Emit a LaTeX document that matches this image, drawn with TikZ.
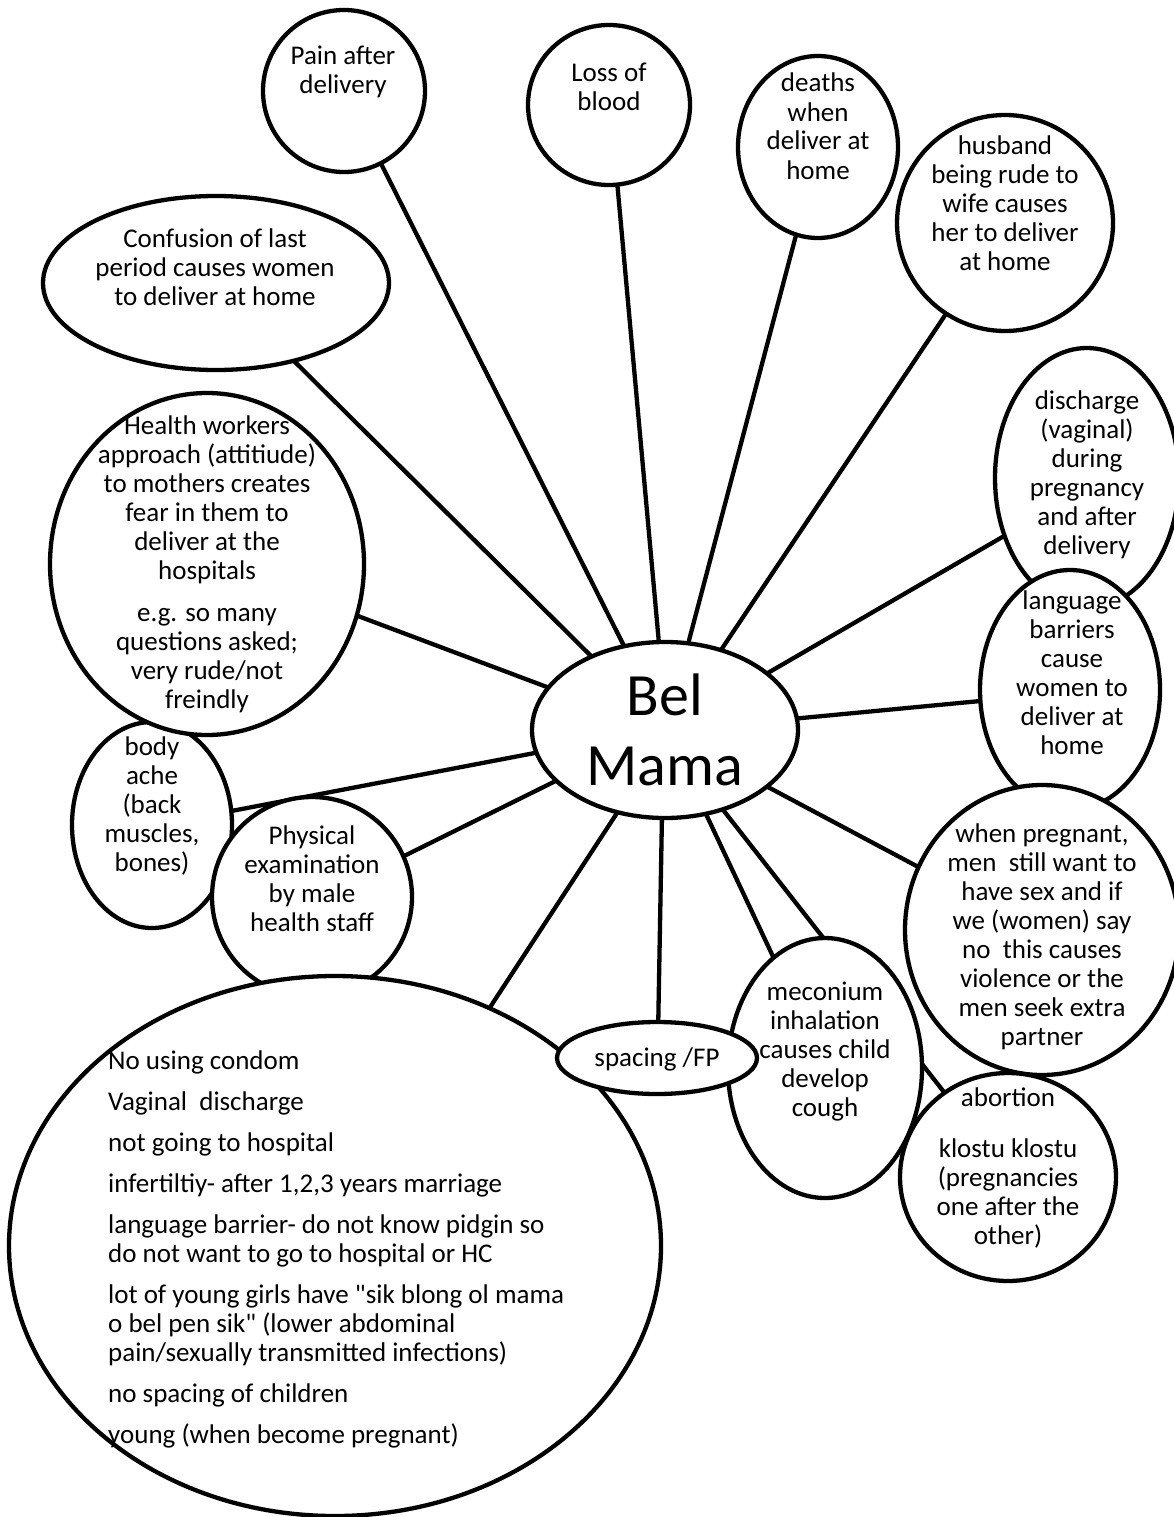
\documentclass[tikz,border=0pt]{standalone}
\usepackage{fontspec}
\setmainfont{Carlito}[Ligatures=TeXOff]
\usetikzlibrary{shapes.geometric,backgrounds}
\newcommand\smallf{\fontsize{27}{29}\selectfont}
\newcommand\bigf{\fontsize{60}{70}\selectfont}
\begin{document}
\begin{tikzpicture}[x=1pt,y=-1pt,
  bubble/.style={draw, line width=4.3pt, fill=white, ellipse, inner sep=0pt, outer sep=0pt},
  txt/.style={font=\smallf, align=center, inner sep=0pt, anchor=base},
  ltxt/.style={font=\smallf, align=left, inner sep=0pt, anchor=base west},
  link/.style={line width=4.3pt}]
\useasboundingbox (0,0) rectangle (1173,1517);

% shapes (later ones lie on top)
\node[bubble, minimum width=162, minimum height=162] (pain) at (344,91) {};
\node[bubble, minimum width=162, minimum height=160] (loss) at (609,105) {};
\node[bubble, minimum width=160, minimum height=182] (deaths) at (818,147) {};
\node[bubble, minimum width=216, minimum height=216] (husband) at (1005,223) {};
\node[bubble, minimum width=346, minimum height=174] (conf) at (216,283) {};
\node[bubble, minimum width=160, minimum height=206] (body) at (152,825) {};
\node[bubble, minimum width=314, minimum height=342] (health) at (207,564) {};
\node[bubble, minimum width=200, minimum height=200] (phys) at (312,897) {};
\node[bubble, minimum width=652, minimum height=540] (big) at (335,1246) {};
\node[bubble, minimum width=184, minimum height=260] (disch) at (1087,478) {};
\node[bubble, minimum width=180, minimum height=240] (lang) at (1070,690) {};
\node[bubble, minimum width=274, minimum height=290] (when) at (1042,930) {};
\node[bubble, minimum width=216, minimum height=208] (abort) at (1008,1177) {};
\node[bubble, minimum width=194, minimum height=260] (mec) at (825,1068) {};
\node[bubble, minimum width=200, minimum height=72] (spacing) at (657,1058) {};
\node[bubble, minimum width=266, minimum height=176] (bel) at (665,730) {};

% connectors behind the shapes
\begin{scope}[on background layer]
\fill[white] (0,0) rectangle (1173,1517);
\draw[link] (bel.116.8) -- (pain.-63.4);
\draw[link] (bel.94.7) -- (loss.-84.3);
\draw[link] (bel.75.2) -- (deaths.-104.2);
\draw[link] (bel.55.5) -- (husband.-123);
\draw[link] (bel.135) -- (conf.-45.3);
\draw[link] (bel.160.3) -- (health.-19.7);
\draw[link] (bel.29.6) -- (disch.-145.1);
\draw[link] (bel.5.2) -- (lang.187.6);
\draw[link] (bel.-29.4) -- (when.153.3);
\draw[link] (bel.-64.2) -- (mec.115.5);
\draw[link] (bel.-54.1) -- (abort.127.7);
\draw[link] (bel.-92) -- (spacing.88);
\draw[link] (bel.-120.9) -- (big.57.2);
\draw[link] (bel.205.7) -- (phys.24.8);
\draw[link] (bel.190.3) -- (body.10.5);
\end{scope}

% texts (anchor = baseline of the last line)
\node[txt] (t-pain) at (343,94) {Pain after\\delivery};
\node[txt] (t-loss) at (609,111) {Loss of\\blood};
\node[txt] (t-deaths) at (818,179) {deaths\\when\\deliver at\\home};
\node[txt] (t-husband) at (1005,270) {husband\\being rude to\\wife causes\\her to deliver\\at home};
\node[txt] (t-conf) at (215,305) {Confusion of last\\period causes women\\to deliver at home};
\node[txt] (t-health) at (207,708) {Health workers\\approach (attitiude)\\to mothers creates\\fear in them to\\deliver at the\\hospitals\\[13pt]e.g. so many\\questions asked;\\very rude/not\\freindly};
\node[txt] (t-disch) at (1087,554) {discharge\\(vaginal)\\during\\pregnancy\\and after\\delivery};
\node[txt] (t-lang) at (1072,754) {language\\barriers\\cause\\women to\\deliver at\\home};
\node[txt] (t-body) at (152,871) {body\\ache\\(back\\muscles,\\bones)};
\node[txt] (t-phys) at (312,931) {Physical\\examination\\by male\\health staff};
\node[txt] (t-when) at (1042,1045) {when pregnant,\\men\ \ still want to\\have sex and if\\we (women) say\\no\ \ this causes\\violence or the\\men seek extra\\partner};
\node[txt] (t-mec) at (825,1116) {meconium\\inhalation\\causes child\\develop\\cough};
\node[txt] (t-spacing) at (657,1066) {spacing /FP};
\node[txt] (t-abort) at (1008,1106) {abortion};
\node[txt] (t-klostu) at (1008,1244) {klostu klostu\\(pregnancies\\one after the\\other)};
\node[txt, font=\bigf] (t-bel) at (665,785) {Bel\\Mama};
\node[ltxt] (t-big) at (108,1443) {No using condom\\[12pt]
Vaginal\ \ discharge\\[12pt]
not going to hospital\\[12pt]
infertiltiy- after 1,2,3 years marriage\\[12pt]
language barrier- do not know pidgin so\\
do not want to go to hospital or HC\\[12pt]
lot of young girls have "sik blong ol mama\\
o bel pen sik" (lower abdominal\\
pain/sexually transmitted infections)\\[12pt]
no spacing of children\\[12pt]
young (when become pregnant)};
\end{tikzpicture}
\end{document}
